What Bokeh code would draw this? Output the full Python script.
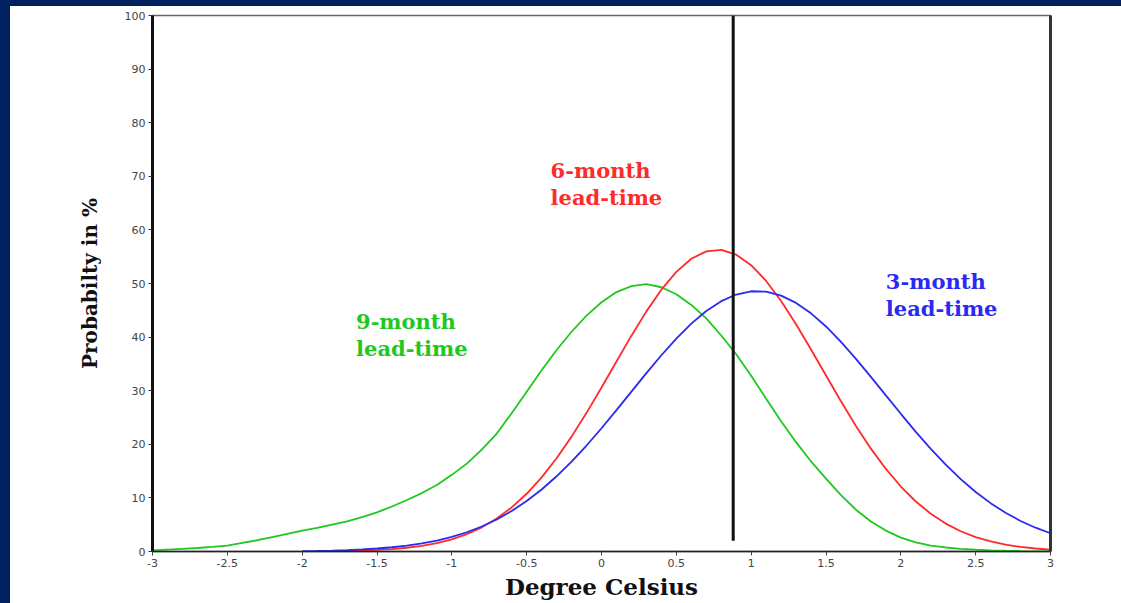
from bokeh.plotting import figure
from bokeh.models import Range1d, LinearAxis, FixedTicker, Spacer, ColumnDataSource
from bokeh.layouts import row, column
from bokeh.embed import file_html
from bokeh.resources import INLINE
from bokeh.core.properties import value

# ---------------- data ----------------
temp_c = [-3.0, -2.9, -2.8, -2.7, -2.6, -2.5, -2.4, -2.3, -2.2, -2.1,
          -2.0, -1.9, -1.8, -1.7, -1.6, -1.5, -1.4, -1.3, -1.2, -1.1,
          -1.0, -0.9, -0.8, -0.7, -0.6, -0.5, -0.4, -0.3, -0.2, -0.1,
          0.0, 0.1, 0.2, 0.3, 0.4, 0.5, 0.6, 0.7, 0.8, 0.9,
          1.0, 1.1, 1.2, 1.3, 1.4, 1.5, 1.6, 1.7, 1.8, 1.9,
          2.0, 2.1, 2.2, 2.3, 2.4, 2.5, 2.6, 2.7, 2.8, 2.9, 3.0]

# 9-month lead-time (green), x = -3.0 .. 3.0
prob_9m = [0.2, 0.35, 0.5, 0.65, 0.85, 1.1, 1.6, 2.1, 2.7, 3.3,
           3.9, 4.4, 5.0, 5.6, 6.4, 7.3, 8.4, 9.6, 10.9, 12.4,
           14.3, 16.4, 19.0, 22.0, 25.8, 29.8, 33.8, 37.6, 41.0, 44.0,
           46.5, 48.4, 49.5, 49.9, 49.3, 48.0, 46.0, 43.5, 40.3, 36.8,
           32.8, 28.5, 24.3, 20.4, 16.8, 13.6, 10.5, 7.8, 5.6, 3.9,
           2.6, 1.7, 1.1, 0.75, 0.5, 0.35, 0.22, 0.14, 0.08, 0.04, 0.02]

# 3-month lead-time (blue), x = -2.0 .. 3.0
prob_3m = [0.08, 0.12, 0.18, 0.27, 0.39, 0.56, 0.79, 1.10, 1.51, 2.04,
           2.73, 3.59, 4.67, 5.98, 7.56, 9.42, 11.57, 14.03, 16.77, 19.77,
           22.99, 26.37, 29.83, 33.27, 36.61, 39.72, 42.51, 44.86, 46.70, 47.94,
           48.55, 48.48, 47.74, 46.38, 44.43, 41.98, 39.12, 35.95, 32.59, 29.13,
           25.69, 22.33, 19.15, 16.20, 13.51, 11.11, 9.02, 7.22, 5.70, 4.44, 3.40]

# 6-month lead-time (red), x = -1.7 .. 3.0
prob_6m = [0.11, 0.18, 0.29, 0.46, 0.70, 1.06, 1.57, 2.28, 3.24, 4.51,
           6.15, 8.22, 10.77, 13.83, 17.39, 21.43, 25.87, 30.59, 35.46, 40.27,
           44.80, 48.85, 52.18, 54.61, 56.00, 56.26, 55.38, 53.42, 50.48, 46.75,
           42.41, 37.70, 32.84, 28.02, 23.43, 19.19, 15.40, 12.12, 9.33, 7.05,
           5.21, 3.78, 2.68, 1.87, 1.27, 0.85, 0.56, 0.36]

observed_anomaly = 0.88
observed_line_bottom = 2.0

x_ticks = [-3, -2.5, -2, -1.5, -1, -0.5, 0, 0.5, 1, 1.5, 2, 2.5, 3]
x_tick_labels = ["-3", "-2.5", "-2", "-1.5", "-1", "-0.5", "0", "0.5", "1", "1.5", "2", "2.5", "3"]
y_ticks = [0, 10, 20, 30, 40, 50, 60, 70, 80, 90, 100]

labels_6m = ["6-month", "lead-time"]
labels_3m = ["3-month", "lead-time"]
labels_9m = ["9-month", "lead-time"]

# ---------------- styling ----------------
NAVY = "#002060"
GREEN = "#1ec81e"
RED = "#ff2a2a"
BLUE = "#2a2af0"
TICK_FONT = "DejaVu Sans"
SERIF = "DejaVu Serif"

p = figure(width=1111, height=597,
           x_range=Range1d(-3, 3), y_range=Range1d(0, 100),
           output_backend="svg", toolbar_location=None,
           min_border_left=142, min_border_right=71,
           min_border_top=9, min_border_bottom=52,
           background_fill_color="white", border_fill_color="white")

p.xgrid.visible = False
p.ygrid.visible = False
p.outline_line_color = "#666666"
p.outline_line_width = 1.5

# x axis
xa = p.xaxis[0]
xa.ticker = FixedTicker(ticks=x_ticks)
xa.major_label_overrides = {t: l for t, l in zip(x_ticks, x_tick_labels)}
xa.minor_tick_line_color = None
xa.major_tick_in = 0
xa.major_tick_out = 4
xa.axis_line_width = 1.5
xa.axis_line_color = "#222222"
xa.major_tick_line_color = "#444444"
xa.major_label_text_font = TICK_FONT
xa.major_label_text_font_size = "11px"
xa.major_label_text_color = "#444444"
xa.major_label_standoff = 3
xa.axis_label = "Degree Celsius"
xa.axis_label_text_font = SERIF
xa.axis_label_text_font_style = "bold"
xa.axis_label_text_font_size = "23px"
xa.axis_label_text_color = "#111111"
xa.axis_label_standoff = 3

# y axis
ya = p.yaxis[0]
ya.ticker = FixedTicker(ticks=y_ticks)
ya.minor_tick_line_color = None
ya.major_tick_in = 0
ya.major_tick_out = 4
ya.axis_line_width = 3
ya.axis_line_color = "#111111"
ya.major_tick_line_color = "#333333"
ya.major_label_text_font = TICK_FONT
ya.major_label_text_font_size = "11px"
ya.major_label_text_color = "#444444"
ya.major_label_standoff = 3
ya.axis_label = "Probabilty in %"
ya.axis_label_text_font = SERIF
ya.axis_label_text_font_style = "bold"
ya.axis_label_text_font_size = "20px"
ya.axis_label_text_color = "#111111"
ya.axis_label_standoff = 20

# right border (thick)
ra = LinearAxis(ticker=FixedTicker(ticks=[]), axis_line_width=3,
                axis_line_color="#333333", major_tick_line_color=None,
                minor_tick_line_color=None, major_label_text_color=None)
p.add_layout(ra, "right")

# curves
p.line(temp_c, prob_9m, line_color=GREEN, line_width=1.8)
p.line(temp_c[13:], prob_6m, line_color=RED, line_width=1.8)
p.line(temp_c[10:], prob_3m, line_color=BLUE, line_width=1.8)

# observed value
p.segment(x0=[observed_anomaly], y0=[observed_line_bottom],
          x1=[observed_anomaly], y1=[100], line_color="#111111", line_width=3)

# annotations
def add_label(lines, x, y_top, color, dy=5.0):
    src = ColumnDataSource(dict(x=[x] * len(lines),
                                y=[y_top - i * dy for i in range(len(lines))],
                                t=lines))
    p.text(x="x", y="y", text="t", source=src, text_color=color,
           text_font=value(SERIF), text_font_style="bold",
           text_font_size="21px", text_align="left", text_baseline="middle")

add_label(labels_6m, -0.34, 71.1, RED)
add_label(labels_3m, 1.90, 50.4, BLUE)
add_label(labels_9m, -1.64, 42.9, GREEN)

left_bar = Spacer(width=10, height=603, styles={"background-color": NAVY})
top_bar = Spacer(width=1111, height=6, styles={"background-color": NAVY})
layout = row(left_bar, column(top_bar, p))

open("out.html", "w").write(file_html(layout, INLINE))
